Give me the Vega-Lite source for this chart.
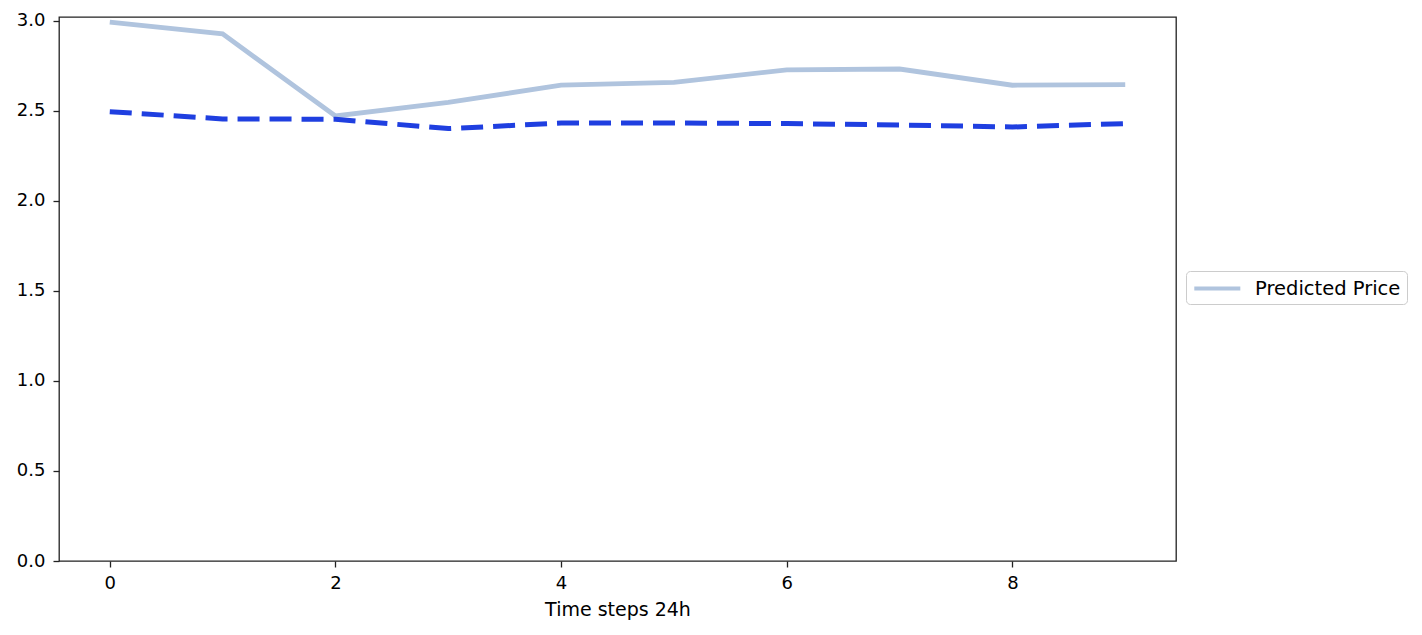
{
  "$schema": "https://vega.github.io/schema/vega-lite/v6.json",
  "width": 1117,
  "height": 544,
  "autosize": {"type": "none"},
  "padding": {"left": 59, "top": 17, "right": 246, "bottom": 74},
  "background": "white",
  "config": {
    "font": "DejaVu Sans",
    "view": {"stroke": "#222222", "strokeWidth": 1.3},
    "axis": {
      "domain": false,
      "grid": false,
      "tickColor": "#222222",
      "tickSize": 6,
      "tickWidth": 1.3,
      "labelFont": "DejaVu Sans",
      "labelFontSize": 18,
      "labelColor": "#000000",
      "titleFont": "DejaVu Sans",
      "titleFontSize": 19,
      "titleFontWeight": "normal",
      "titleColor": "#000000"
    }
  },
  "data": {
    "values": [
      {"t": 0, "pred": 2.993, "actual": 2.496},
      {"t": 1, "pred": 2.928, "actual": 2.456},
      {"t": 2, "pred": 2.472, "actual": 2.454},
      {"t": 3, "pred": 2.548, "actual": 2.402},
      {"t": 4, "pred": 2.643, "actual": 2.433},
      {"t": 5, "pred": 2.659, "actual": 2.433},
      {"t": 6, "pred": 2.728, "actual": 2.43},
      {"t": 7, "pred": 2.733, "actual": 2.422},
      {"t": 8, "pred": 2.643, "actual": 2.411},
      {"t": 9, "pred": 2.646, "actual": 2.43}
    ]
  },
  "layer": [
    {
      "mark": {"type": "line", "strokeWidth": 4.8, "strokeCap": "butt"},
      "encoding": {
        "x": {
          "field": "t",
          "type": "quantitative",
          "scale": {"domain": [-0.45, 9.45], "nice": false, "zero": false},
          "axis": {"values": [0, 2, 4, 6, 8], "format": "d", "title": "Time steps 24h", "labelPadding": 7, "titlePadding": 8}
        },
        "y": {
          "field": "pred",
          "type": "quantitative",
          "scale": {"domain": [0, 3.022], "nice": false},
          "axis": {"values": [0, 0.5, 1, 1.5, 2, 2.5, 3], "format": ".1f", "title": null, "labelPadding": 8}
        },
        "color": {
          "datum": "Predicted Price",
          "scale": {"range": ["#b0c4de"]},
          "legend": {
            "title": null,
            "orient": "none",
            "legendX": 1127,
            "legendY": 254,
            "symbolType": "M-1,0H4",
            "symbolStrokeWidth": 4,
            "symbolSize": 339,
            "labelFontSize": 19.5,
            "labelFont": "DejaVu Sans",
            "labelColor": "#000000",
            "strokeColor": "#cccccc",
            "fillColor": "white",
            "cornerRadius": 4,
            "padding": 6,
            "labelOffset": 40
          }
        }
      }
    },
    {
      "mark": {"type": "line", "strokeWidth": 5, "strokeDash": [22, 10], "color": "#1f3fe0", "strokeCap": "butt"},
      "encoding": {
        "x": {"field": "t", "type": "quantitative"},
        "y": {"field": "actual", "type": "quantitative"}
      }
    }
  ]
}
